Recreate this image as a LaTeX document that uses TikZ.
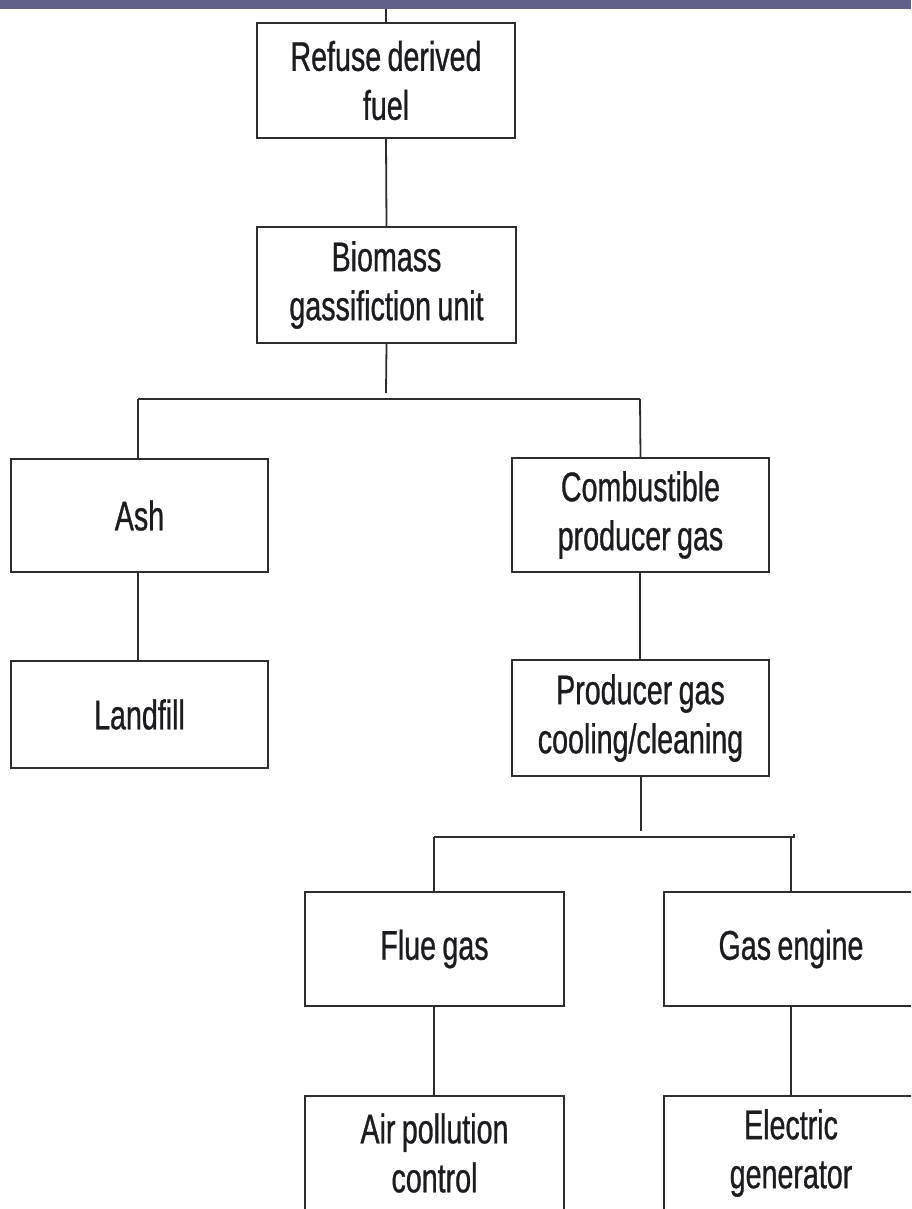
\documentclass[tikz,border=0pt]{standalone}
\usepackage{fontspec}
\setmainfont{Liberation Sans}[FakeStretch=0.69,WordSpace=0.8,FakeBold=0.7]
\definecolor{barc}{RGB}{96,96,136}
\definecolor{linec}{RGB}{45,45,45}
\definecolor{textc}{RGB}{28,28,32}
\tikzset{
  box/.style={draw=linec, line width=1.8pt, inner sep=0pt, align=center,
    text=textc, font=\fontsize{41.5}{49}\selectfont},
  conn/.style={draw=linec, line width=1.8pt},
}
\begin{document}
\begin{tikzpicture}[x=1pt,y=-1pt]
\clip (0,0) rectangle (911,1209);
\useasboundingbox (0,0) rectangle (911,1209);
\fill[barc] (0,0) rectangle (911,9);
\coordinate (bartap) at (386,9);
\node[box, minimum width=258pt, minimum height=115pt] (refuse) at (386,80.5) {Refuse derived\\fuel};
\node[box, minimum width=259pt, minimum height=116pt] (bio) at (386.5,285) {Biomass\\gassifiction unit};
\node[box, minimum width=257pt, minimum height=113pt] (ash) at (139.5,515.5) {Ash};
\node[box, minimum width=257pt, minimum height=114pt] (comb) at (640.5,515) {Combustible\\producer gas};
\node[box, minimum width=257pt, minimum height=107pt] (land) at (139.5,714.5) {Landfill};
\node[box, minimum width=257pt, minimum height=116pt] (cool) at (640.5,718) {Producer gas\\cooling/cleaning};
\node[box, minimum width=259pt, minimum height=114pt] (flue) at (434.5,949) {Flue gas};
\node[box, minimum width=254pt, minimum height=114pt] (engine) at (791,949) {Gas engine};
\node[box, minimum width=259pt, minimum height=114pt] (air) at (434.5,1153) {Air pollution\\control};
\node[box, minimum width=254pt, minimum height=114pt] (elec) at (791,1153) {Electric\\generator};
% connectors
\draw[conn] (bartap) -- (refuse.north);
\draw[conn] (refuse.south) -- (bio.north);
\coordinate (bioend) at (386,393);
\coordinate (busAL) at (138,399);
\coordinate (busAR) at (640,399);
\draw[conn] (bio.south) -- (bioend);
\draw[conn] (busAL) -- (busAR);
\draw[conn] (busAL) -- (busAL |- ash.north);
\draw[conn] (busAR) -- (comb.north);
\draw[conn] (ash.south -| busAL) -- (land.north -| busAL);
\draw[conn] (comb.south -| busAR) -- (cool.north -| busAR);
\coordinate (coolend) at (641,831);
\coordinate (busBL) at (434,837);
\coordinate (busBR) at (791,837);
\coordinate (busBtick) at (794,834);
\draw[conn] (cool.south -| coolend) -- (coolend);
\draw[conn] (busBL) -- (busBR -| busBtick);
\draw[conn, line width=1.2pt] (busBtick) -- ++(0,4);
\draw[conn] (busBL) -- (busBL |- flue.north);
\draw[conn] (busBR) -- (engine.north);
\draw[conn] (flue.south -| busBL) -- (air.north -| busBL);
\draw[conn] (engine.south) -- (elec.north);
\end{tikzpicture}
\end{document}
